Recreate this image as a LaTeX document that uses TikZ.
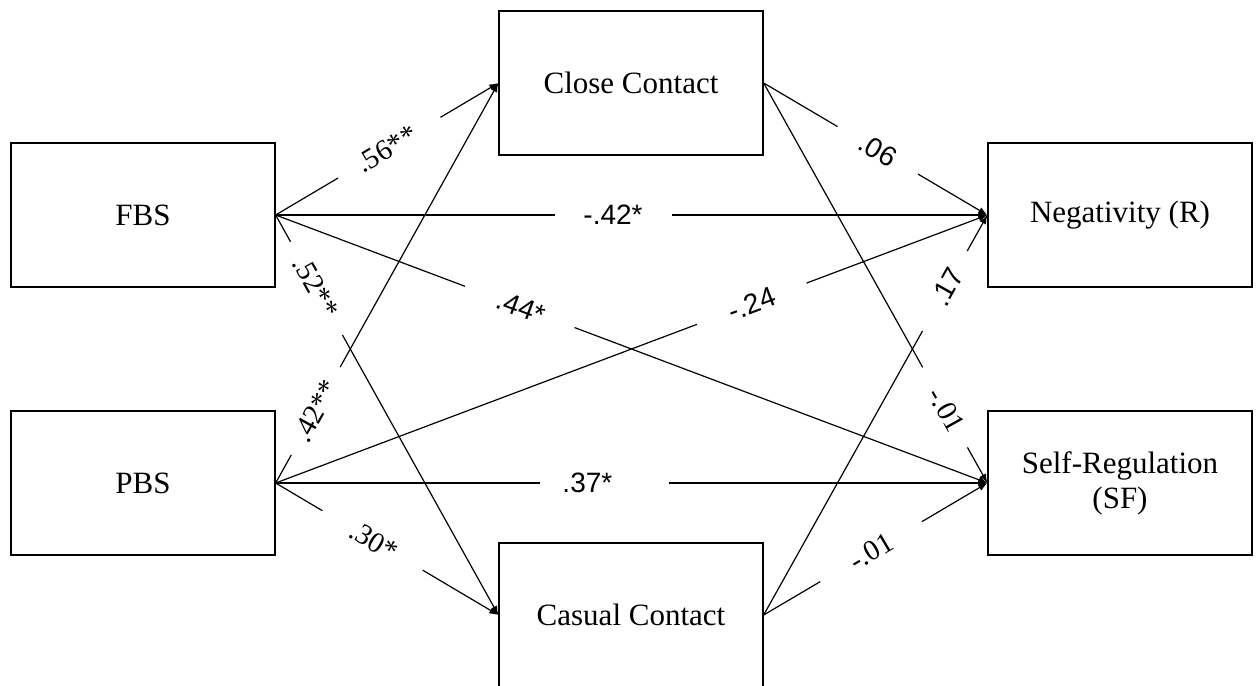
\documentclass[tikz,border=0pt]{standalone}
\usepackage{fontspec}
\setmainfont{Liberation Serif}
\newfontfamily\labsansfont{Liberation Sans}
\usetikzlibrary{calc,arrows.meta}
\begin{document}
\begin{tikzpicture}[x=1pt,y=-1pt,
  box/.style={draw, line width=1.3pt, minimum width=264pt, minimum height=144pt,
    inner sep=0pt, align=center, font=\fontsize{31}{35}\selectfont},
  conn/.style={line width=1.2pt},
  arr/.style={conn, -{Latex[length=9pt,width=7pt]}},
  lab/.style={sloped, inner sep=0pt, font=\fontsize{29}{30}\selectfont},
  labsans/.style={sloped, inner sep=0pt, font=\labsansfont\fontsize{28}{30}\selectfont}]
\useasboundingbox (0,0) rectangle (1257,685);
\clip (0,0) rectangle (1257,685);
\node[box] (FBS) at (143,215) {FBS};
\node[box] (PBS) at (143,483) {PBS};
\node[box] (CC) at (631,83) {Close Contact};
\node[box] (CAS) at (631,615) {Casual Contact};
\node[box] (NEG) at (1120,215) {Negativity (R)};
\node[box] (SR) at (1120,483) {Self-Regulation\\(SF)};
% FBS -> Close Contact
\draw[conn] (FBS.east) -- ($(FBS.east)!0.28!(CC.west)$);
\draw[arr] ($(FBS.east)!0.74!(CC.west)$) -- (CC.west);
\path (FBS.east) -- node[lab,pos=0.50]{.56**} (CC.west);
% FBS -> Negativity
\draw[conn] (FBS.east) -- ($(FBS.east)!0.393!(NEG.west)$);
\draw[arr] ($(FBS.east)!0.557!(NEG.west)$) -- (NEG.west);
\path (FBS.east) -- node[labsans,pos=0.474]{-.42*} (NEG.west);
% FBS -> Self-Regulation
\draw[conn] (FBS.east) -- ($(FBS.east)!0.266!(SR.west)$);
\draw[arr] ($(FBS.east)!0.42!(SR.west)$) -- (SR.west);
\path (FBS.east) -- node[labsans,pos=0.345]{.44*} (SR.west);
% FBS -> Casual Contact
\draw[conn] (FBS.east) -- ($(FBS.east)!0.067!(CAS.west)$);
\draw[arr] ($(FBS.east)!0.30!(CAS.west)$) -- (CAS.west);
\path (FBS.east) -- node[lab,pos=0.18]{.52**} (CAS.west);
% PBS -> Close Contact
\draw[conn] (PBS.east) -- ($(PBS.east)!0.07!(CC.west)$);
\draw[arr] ($(PBS.east)!0.29!(CC.west)$) -- (CC.west);
\path (PBS.east) -- node[lab,pos=0.18]{.42**} (CC.west);
% PBS -> Negativity
\draw[conn] (PBS.east) -- ($(PBS.east)!0.592!(NEG.west)$);
\draw[arr] ($(PBS.east)!0.746!(NEG.west)$) -- (NEG.west);
\path (PBS.east) -- node[labsans,pos=0.669]{-.24} (NEG.west);
% PBS -> Self-Regulation
\draw[conn] (PBS.east) -- ($(PBS.east)!0.372!(SR.west)$);
\draw[arr] ($(PBS.east)!0.553!(SR.west)$) -- (SR.west);
\path (PBS.east) -- node[labsans,pos=0.438]{.37*} (SR.west);
% PBS -> Casual Contact
\draw[conn] (PBS.east) -- ($(PBS.east)!0.21!(CAS.west)$);
\draw[arr] ($(PBS.east)!0.66!(CAS.west)$) -- (CAS.west);
\path (PBS.east) -- node[lab,pos=0.44]{.30*} (CAS.west);
% Close Contact -> Negativity
\draw[conn] (CC.east) -- ($(CC.east)!0.33!(NEG.west)$);
\draw[arr] ($(CC.east)!0.69!(NEG.west)$) -- (NEG.west);
\path (CC.east) -- node[labsans,pos=0.51]{.06} (NEG.west);
% Close Contact -> Self-Regulation
\draw[conn] (CC.east) -- ($(CC.east)!0.711!(SR.west)$);
\draw[arr] ($(CC.east)!0.911!(SR.west)$) -- (SR.west);
\path (CC.east) -- node[lab,pos=0.817]{-.01} (SR.west);
% Casual Contact -> Negativity
\draw[conn] (CAS.east) -- ($(CAS.east)!0.71!(NEG.west)$);
\draw[arr] ($(CAS.east)!0.91!(NEG.west)$) -- (NEG.west);
\path (CAS.east) -- node[labsans,pos=0.82]{.17} (NEG.west);
% Casual Contact -> Self-Regulation
\draw[conn] (CAS.east) -- ($(CAS.east)!0.253!(SR.west)$);
\draw[arr] ($(CAS.east)!0.707!(SR.west)$) -- (SR.west);
\path (CAS.east) -- node[lab,pos=0.48]{-.01} (SR.west);
\end{tikzpicture}
\end{document}
